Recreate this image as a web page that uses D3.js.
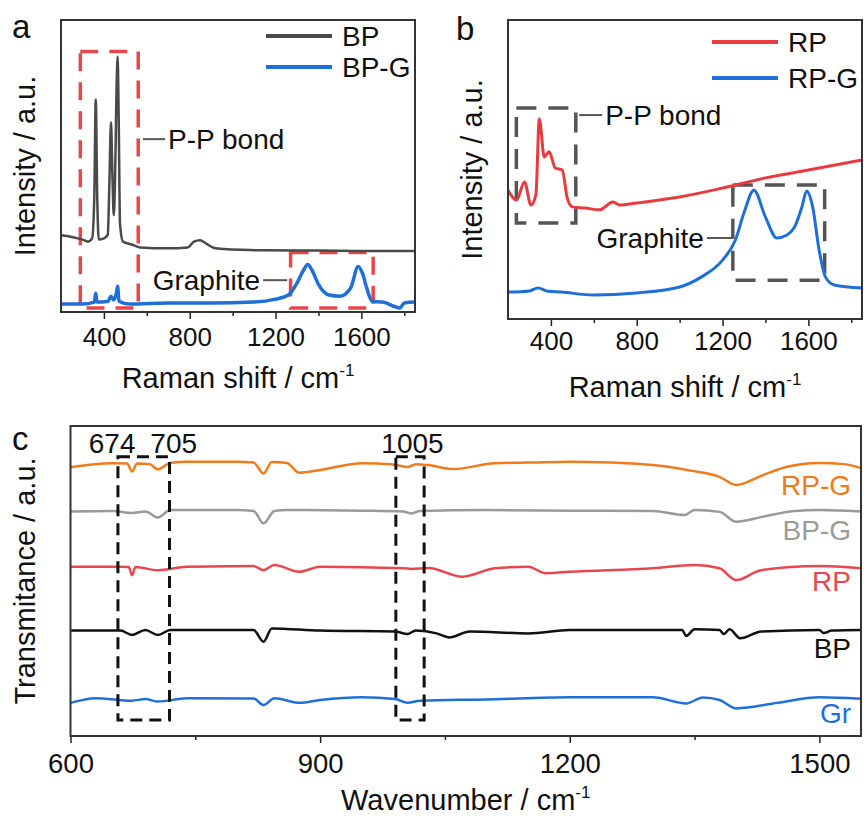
<!DOCTYPE html>
<html>
<head>
<meta charset="utf-8">
<script src="https://cdn.jsdelivr.net/npm/d3@7"></script>
<style>
  body { margin: 0; background: #fff; }
  text { font-family: "Liberation Sans", Arial, sans-serif; }
</style>
</head>
<body>
<div id="chart"></div>
<script>
/*********************************************
** Raman (a, b) and FTIR (c) spectra
** d3 v7
**********************************************/

// ---- panel a : Raman of BP / BP-G (wavenumber, intensity a.u.)
var bpRaman = [[200,26.3],[230,26.0],[260,25.5],[300,24.8],[326,24.1],[345,25.2],[355,38.8],
  [362,72.8],[369,38.8],[376,24.8],[400,25.2],[418,26.5],[426,45.6],[433,65.0],[440,45.6],
  [446,33.1],[452,45.6],[458,72.8],[464,87.5],[469,66.0],[475,30.3],[489,24.1],[530,23.1],
  [568,22.1],[700,21.8],[790,22.1],[820,24.1],[848,24.6],[875,23.5],[920,21.8],[1081,21.2],
  [1300,21.1],[1600,20.9],[1850,20.9]];
var bpgRaman = [[200,2.7],[300,2.7],[355,3.4],[362,6.5],[368,3.4],[420,3.7],[433,5.4],[445,4.1],
  [458,6.5],[464,8.8],[470,3.7],[520,2.7],[700,3.1],[900,3.1],[1100,3.4],[1200,4.4],[1260,5.8],
  [1300,9.9],[1330,14.3],[1350,16.3],[1370,14.3],[1400,9.5],[1450,5.8],[1500,5.4],[1550,8.2],
  [1585,15.6],[1605,13.3],[1625,8.2],[1650,3.7],[1700,3.4],[1780,1.4],[1800,3.1],[1850,3.4]];

// ---- panel b : Raman of RP / RP-G
var rpRaman = [[200,43.1],[240,39.8],[277,45.8],[307,38.1],[330,41.5],[346,66.9],[369,54.2],
  [392,55.9],[420,50.5],[453,49.8],[476,40.5],[500,37.5],[560,37.1],[625,36.5],[690,39.1],
  [720,38.1],[800,38.8],[1000,40.8],[1200,43.8],[1400,47.2],[1600,49.8],[1850,53.2]];
var rpgRaman = [[200,9.0],[300,9.4],[340,10.4],[380,9.4],[450,9.0],[600,8.0],[800,8.7],
  [1000,10.7],[1100,14.0],[1200,19.7],[1260,26.4],[1300,35.5],[1346,43.1],[1400,34.1],
  [1453,27.1],[1500,28.1],[1540,31.4],[1570,37.5],[1592,42.8],[1620,37.5],[1650,23.1],
  [1680,14.0],[1720,11.4],[1850,10.4]];

var ramanTicks = [400, 800, 1200, 1600];
var ramanMinor = [600, 1000, 1400, 1800];

// ---- panel c : FTIR (wavenumber, transmittance a.u., offset traces)
var ftirRPG = [[600,86.7],[650,88.0],[668,87.9],[674,85.3],[680,87.9],[695,87.7],[705,86.0],
  [720,88.1],[740,88.5],[800,88.5],[820,88.2],[832,84.7],[842,88.4],[860,88.1],[875,84.9],
  [900,85.8],[950,88.0],[985,87.7],[1005,86.8],[1015,87.7],[1030,87.4],[1060,86.1],[1110,88.0],
  [1150,88.2],[1200,88.5],[1250,88.2],[1300,87.4],[1335,86.1],[1345,85.6],[1380,83.6],
  [1400,81.0],[1430,83.9],[1460,86.8],[1500,88.1],[1530,87.7],[1550,86.4]];
var ftirBPG = [[600,72.4],[650,72.6],[674,71.9],[690,72.4],[705,70.5],[720,72.9],[800,72.9],
  [820,72.6],[832,68.6],[845,72.6],[860,72.9],[950,72.7],[1000,72.4],[1010,71.8],[1020,72.6],
  [1100,72.9],[1200,72.7],[1300,72.6],[1338,71.3],[1350,72.9],[1380,72.3],[1400,69.1],
  [1430,70.6],[1470,72.6],[1500,72.9],[1550,72.4]];
var ftirRP = [[600,54.6],[660,54.6],[670,54.5],[674,51.9],[678,54.5],[705,53.5],[740,54.6],
  [820,54.8],[832,53.5],[845,55.2],[875,53.0],[900,54.6],[1000,54.1],[1010,53.9],[1030,54.2],
  [1071,51.4],[1110,54.1],[1150,54.6],[1171,52.5],[1200,53.0],[1300,54.1],[1350,55.2],
  [1380,54.1],[1400,50.3],[1430,53.5],[1500,54.8],[1550,54.1]];
var ftirBP = [[600,34.0],[660,34.0],[674,32.6],[690,34.2],[705,32.6],[720,34.2],[820,34.2],
  [832,30.4],[842,34.7],[900,34.0],[990,33.7],[1005,32.9],[1015,34.0],[1040,33.1],[1055,31.8],
  [1080,33.7],[1150,33.1],[1200,34.2],[1335,34.2],[1340,32.3],[1350,34.4],[1380,34.2],
  [1385,32.9],[1392,34.4],[1405,31.5],[1430,33.7],[1500,34.2],[1505,33.2],[1515,34.0],[1550,34.2]];
var ftirGr = [[600,10.7],[630,12.2],[674,11.4],[690,11.9],[705,11.1],[740,12.2],[820,12.1],
  [832,10.0],[845,12.2],[875,10.7],[900,11.6],[950,12.5],[990,11.9],[1005,10.7],[1020,11.4],
  [1100,11.8],[1200,12.5],[1300,12.5],[1340,10.5],[1360,12.4],[1380,11.6],[1400,8.9],
  [1450,10.7],[1500,12.5],[1550,12.0]];

var ftirTicks = [600, 900, 1200, 1500];
var ftirMinor = [750, 1050, 1350];

// dashed boxes: [x0, x1, y0, y1]
var boxesA = [[290, 560, 1.4, 89.2], [1270, 1655, 1.4, 20.4]];
var boxesB = [[239, 516, 32.1, 70.6], [1248, 1676, 13.0, 44.8]];
var boxesC = [[657, 719, 5.2, 90.1], [991, 1025, 5.2, 90.1]];

// labels
var ftirNames = ["RP-G", "BP-G", "RP", "BP", "Gr"];
var ftirLabelY = [81.0, 66.5, 49.8, 28.4, 7.4];
var ftirPeaks = ["674", "705", "1005"];
var ftirPeakX = [650, 724, 1011];

var width = 864, height = 821;
var font = "Liberation Sans, Arial, sans-serif";

var svg = d3.select("#chart")
  .append("svg")
  .attr("width", width)
  .attr("height", height);

/**
* makePanel
* [builds x / y scales for a framed box]
**/
function makePanel(box, xDomain, yDomain){
  return {
    box: box,
    x: d3.scaleLinear().domain(xDomain).range([box.left, box.right]),
    y: d3.scaleLinear().domain(yDomain).range([box.bottom, box.top])
  };
}

/**
* drawAxes
* [frame, bottom ticks, titles and panel letter]
**/
function drawAxes(p, ticks, minor, tickFont, tickPad, xTitle, xTitleY, yTitleX, letter, letterX, letterY){
  var b = p.box;

  var gMinor = svg.append("g")
    .attr("transform", "translate(0," + b.bottom + ")")
    .call(d3.axisBottom(p.x).tickValues(minor).tickSize(4).tickFormat(""));
  gMinor.select(".domain").remove();
  gMinor.selectAll("line").attr("stroke", "#222").attr("stroke-width", 1.5);

  var gMajor = svg.append("g")
    .attr("transform", "translate(0," + b.bottom + ")")
    .call(d3.axisBottom(p.x).tickValues(ticks).tickSize(7).tickPadding(tickPad).tickFormat(d3.format("d")));
  // the axis writes its own font attrs, so override them afterwards
  gMajor.attr("font-family", font).attr("font-size", tickFont);
  gMajor.select(".domain").remove();
  gMajor.selectAll("line").attr("stroke", "#222").attr("stroke-width", 1.5);
  gMajor.selectAll("text").attr("fill", "#111");

  // frame
  svg.append("rect")
    .attr("x", b.left).attr("y", b.top)
    .attr("width", b.right - b.left).attr("height", b.bottom - b.top)
    .attr("fill", "none").attr("stroke", "#333").attr("stroke-width", 2);

  // x title with superscript
  var t = svg.append("text")
    .attr("x", (b.left + b.right) / 2)
    .attr("y", xTitleY)
    .attr("text-anchor", "middle")
    .attr("font-size", 29)
    .attr("fill", "#111")
    .text(xTitle);
  t.append("tspan").attr("dy", -12).attr("font-size", 17).text("-1");

  // y title
  svg.append("text")
    .attr("transform", "translate(" + yTitleX + "," + ((b.top + b.bottom) / 2) + ") rotate(-90)")
    .attr("text-anchor", "middle")
    .attr("font-size", 29)
    .attr("fill", "#111")
    .text(p.yTitle);

  svg.append("text")
    .attr("x", letterX).attr("y", letterY)
    .attr("font-size", 33)
    .attr("fill", "#111")
    .text(letter);
}

function drawSpectrum(p, data, color, lw){
  var line = d3.line()
    .x(function(d){ return p.x(d[0]); })
    .y(function(d){ return p.y(d[1]); })
    .curve(d3.curveMonotoneX);
  svg.append("path")
    .datum(data)
    .attr("d", line)
    .attr("fill", "none")
    .attr("stroke", color)
    .attr("stroke-width", lw)
    .attr("stroke-linejoin", "round");
}

function drawBoxes(p, boxes, color, lw, dash){
  svg.selectAll(null)
    .data(boxes)
    .enter()
    .append("rect")
    .attr("x", function(d){ return p.x(d[0]); })
    .attr("y", function(d){ return p.y(d[3]); })
    .attr("width", function(d){ return p.x(d[1]) - p.x(d[0]); })
    .attr("height", function(d){ return p.y(d[2]) - p.y(d[3]); })
    .attr("fill", "none")
    .attr("stroke", color)
    .attr("stroke-width", lw)
    .attr("stroke-dasharray", dash);
}

// leader line + label; side "right" puts text after the line
function drawNote(p, x0, x1, yv, label, side){
  var yy = p.y(yv);
  svg.append("line")
    .attr("x1", p.x(x0)).attr("x2", p.x(x1))
    .attr("y1", yy).attr("y2", yy)
    .attr("stroke", "#555").attr("stroke-width", 2);
  svg.append("text")
    .attr("x", side == "right" ? p.x(x1) + 3 : p.x(x0) - 3)
    .attr("y", yy)
    .attr("dy", "0.35em")
    .attr("text-anchor", side == "right" ? "start" : "end")
    .attr("font-size", 28)
    .attr("fill", "#111")
    .text(label);
}

function drawLegend(items, x0, y0, gap){
  items.forEach(function(it, i){
    svg.append("line")
      .attr("x1", x0).attr("x2", x0 + 66)
      .attr("y1", y0 + i * gap).attr("y2", y0 + i * gap)
      .attr("stroke", it[1]).attr("stroke-width", 4);
    svg.append("text")
      .attr("x", x0 + 76).attr("y", y0 + i * gap)
      .attr("dy", "0.35em")
      .attr("font-size", 28)
      .attr("fill", "#111")
      .text(it[0]);
  });
}

// ---------------- panel a
var pa = makePanel({left: 61, top: 20, right: 415, bottom: 312}, [200, 1850], [0, 100]);
pa.yTitle = "Intensity / a.u.";
drawBoxes(pa, boxesA, "#e8474a", 3.5, "18,11");
drawSpectrum(pa, bpRaman, "#4a4a4a", 2.5);
drawSpectrum(pa, bpgRaman, "#1f6fd9", 3.5);
drawAxes(pa, ramanTicks, ramanMinor, 26, 9, "Raman shift / cm", 388, 35, "a", 12, 38);
drawNote(pa, 582, 685, 59.2, "P-P bond", "right");
drawNote(pa, 1142, 1254, 10.9, "Graphite", "left");
drawLegend([["BP", "#4a4a4a"], ["BP-G", "#1f6fd9"]], 266, 36, 31);

// ---------------- panel b
var pb = makePanel({left: 508, top: 20, right: 862, bottom: 319}, [200, 1850], [0, 100]);
pb.yTitle = "Intensity / a.u.";
drawBoxes(pb, boxesB, "#555", 3.5, "20,12");
drawSpectrum(pb, rpRaman, "#e63c3f", 3);
drawSpectrum(pb, rpgRaman, "#1f6fd9", 3);
drawAxes(pb, ramanTicks, ramanMinor, 26, 6, "Raman shift / cm", 397, 482, "b", 456, 40);
drawNote(pb, 532, 639, 68.2, "P-P bond", "right");
drawNote(pb, 1127, 1253, 27.1, "Graphite", "left");
drawLegend([["RP", "#e63c3f"], ["RP-G", "#1f6fd9"]], 712, 42, 36);

// ---------------- panel c
var pc = makePanel({left: 70.5, top: 426, right: 861, bottom: 736}, [600, 1550], [0, 100]);
pc.yTitle = "Transmitance / a.u.";
var ftirSeries = [ftirRPG, ftirBPG, ftirRP, ftirBP, ftirGr];
var ftirColors = ["#f07a1c", "#9a9a9a", "#e8474f", "#111111", "#1f6fd9"];
ftirSeries.forEach(function(s, i){
  drawSpectrum(pc, s, ftirColors[i], 2.5);
});
drawBoxes(pc, boxesC, "#111", 3, "12,7");
drawAxes(pc, ftirTicks, ftirMinor, 27.5, 10, "Wavenumber / cm", 810, 35, "c", 12, 450);

ftirNames.forEach(function(n, i){
  svg.append("text")
    .attr("x", pc.x(1538))
    .attr("y", pc.y(ftirLabelY[i]))
    .attr("dy", "0.35em")
    .attr("text-anchor", "end")
    .attr("font-size", 28)
    .attr("fill", ftirColors[i])
    .text(n);
});

ftirPeaks.forEach(function(n, i){
  svg.append("text")
    .attr("x", pc.x(ftirPeakX[i]))
    .attr("y", pc.y(94.5))
    .attr("dy", "0.35em")
    .attr("text-anchor", "middle")
    .attr("font-size", 28)
    .attr("fill", "#111")
    .text(n);
});
</script>
</body>
</html>
